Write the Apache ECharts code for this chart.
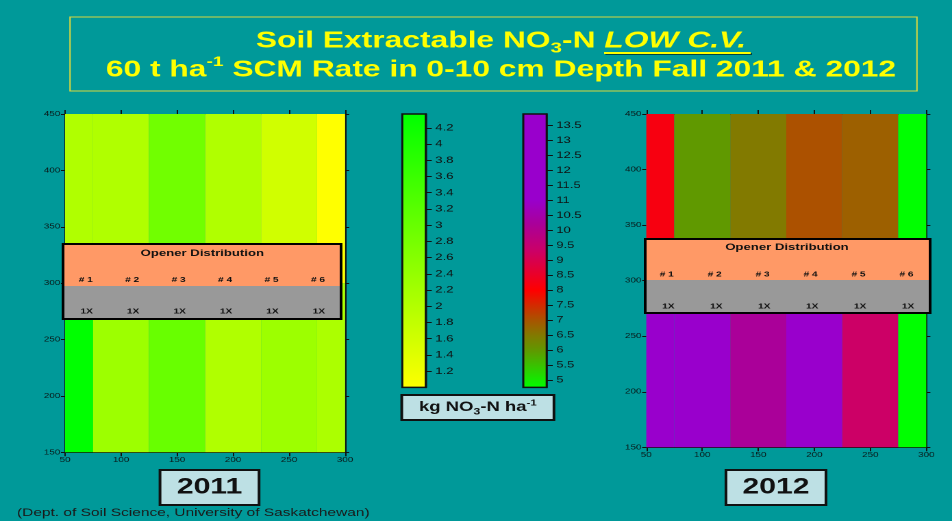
<!DOCTYPE html>
<html>
<head>
<meta charset="utf-8">
<script src="https://cdn.jsdelivr.net/npm/echarts@6/dist/echarts.min.js"></script>
<style>
  html, body { margin: 0; padding: 0; background: #009999; overflow: hidden; }
  /* the source slide is stretched horizontally, so draw narrow and stretch */
  #main { width: 695px; height: 521px; transform: scaleX(1.3698); transform-origin: 0 0; }
</style>
</head>
<body>
<div id="main"></div>
<script>
// grid points (m) and the two rows of each field map
const xPoints = [50, 100, 150, 200, 250, 300];
const yRows = [150, 450];
// kg NO3-N ha-1, one value per column, bottom row (y=150) and top row (y=450)
const no3_2011_bottom = [4.37, 2.3, 3.0, 2.05, 2.3, 2.1];
const no3_2011_top = [2.05, 2.05, 2.88, 2.05, 1.62, 1.0];
const no3_2012_bottom = [12.0, 12.0, 10.2, 12.0, 9.3, 4.75];
const no3_2012_top = [8.2, 6.0, 6.5, 7.05, 6.85, 4.75];

const xTicks = [50, 100, 150, 200, 250, 300];
const yTicks = [150, 200, 250, 300, 350, 400, 450];
const ticks2011 = [1.2, 1.4, 1.6, 1.8, 2, 2.2, 2.4, 2.6, 2.8, 3, 3.2, 3.4, 3.6, 3.8, 4, 4.2];
const ticks2012 = [5, 5.5, 6, 6.5, 7, 7.5, 8, 8.5, 9, 9.5, 10, 10.5, 11, 11.5, 12, 12.5, 13, 13.5];
const openers = ['# 1', '# 2', '# 3', '# 4', '# 5', '# 6'];
const rates = ['1X', '1X', '1X', '1X', '1X', '1X'];

// colour scales [value, colour]
const stops2011 = [[1.0, '#ffff00'], [4.37, '#00ff00']];
const stops2012 = [[4.75, '#00ff00'], [6.0, '#609900'], [6.5, '#827a00'], [7.0, '#a85500'],
  [8.0, '#ff0000'], [9.3, '#cc0066'], [10.2, '#aa0099'], [11.0, '#9900cc'], [13.88, '#9900cc']];

const FONT = "'Liberation Sans', Arial, sans-serif";

function colorAt(stops, v) {
  if (v <= stops[0][0]) return stops[0][1];
  for (let i = 1; i < stops.length; i++) {
    if (v <= stops[i][0]) {
      const t = (v - stops[i - 1][0]) / (stops[i][0] - stops[i - 1][0]);
      return echarts.color.lerp(t, [stops[i - 1][1], stops[i][1]]);
    }
  }
  return stops[stops.length - 1][1];
}

// cells: [x0, x1, y0, y1, value], edges half way between grid points
function cells(bottom, top) {
  const out = [];
  const rows = [bottom, top];
  for (let r = 0; r < yRows.length; r++) {
    const y0 = r === 0 ? yRows[0] : (yRows[r - 1] + yRows[r]) / 2;
    const y1 = r === yRows.length - 1 ? yRows[r] : (yRows[r] + yRows[r + 1]) / 2;
    for (let i = 0; i < xPoints.length; i++) {
      const x0 = i === 0 ? xPoints[0] : (xPoints[i - 1] + xPoints[i]) / 2;
      const x1 = i === xPoints.length - 1 ? xPoints[i] : (xPoints[i] + xPoints[i + 1]) / 2;
      out.push([x0, x1, y0, y1, rows[r][i]]);
    }
  }
  return out;
}

function heatSeries(idx, data, stops) {
  return {
    type: 'custom', xAxisIndex: idx, yAxisIndex: idx,
    encode: { x: [0, 1], y: [2, 3] },
    data: data,
    z: 1,
    renderItem: function (params, api) {
      const p0 = api.coord([api.value(0), api.value(3)]);
      const p1 = api.coord([api.value(1), api.value(2)]);
      return {
        type: 'rect',
        shape: { x: p0[0], y: p0[1], width: p1[0] - p0[0], height: p1[1] - p0[1] },
        style: { fill: colorAt(stops, api.value(4)) }
      };
    }
  };
}

function barSeries(idx, stops) {
  const lo = stops[0][0], hi = stops[stops.length - 1][0];
  return {
    type: 'custom', xAxisIndex: idx, yAxisIndex: idx,
    data: [[0, lo, 1, hi]],
    renderItem: function (params, api) {
      const p0 = api.coord([0, hi]);
      const p1 = api.coord([1, lo]);
      return {
        type: 'rect',
        shape: { x: p0[0], y: p0[1], width: p1[0] - p0[0], height: p1[1] - p0[1] },
        style: {
          fill: new echarts.graphic.LinearGradient(0, 1, 0, 0,
            stops.map(s => ({ offset: (s[0] - lo) / (hi - lo), color: s[1] }))),
          stroke: '#111', lineWidth: 1.5
        }
      };
    }
  };
}

const axisLine = { show: true, onZero: false, lineStyle: { color: '#111', width: 1 } };
function mapX(grid, pos) {
  return {
    type: 'value', gridIndex: grid, position: pos, min: 50, max: 300, interval: 50,
    axisLine: axisLine, splitLine: { show: false },
    axisTick: { show: true, length: 4, lineStyle: { color: '#111' } },
    axisLabel: { show: pos === 'bottom', fontSize: 7.2, margin: 4, color: '#0a1a1a', fontFamily: FONT }
  };
}
function mapY(grid, pos) {
  return {
    type: 'value', gridIndex: grid, position: pos, min: 150, max: 450, interval: 50,
    axisLine: axisLine, splitLine: { show: false },
    axisTick: { show: true, length: 3, lineStyle: { color: '#111' } },
    axisLabel: { show: pos === 'left', fontSize: 7.2, margin: 3.5, color: '#0a1a1a', fontFamily: FONT }
  };
}
function barX(grid) {
  return { type: 'value', gridIndex: grid, min: 0, max: 1, show: false };
}
function barY(grid, stops, ticks) {
  return {
    type: 'value', gridIndex: grid, position: 'right',
    min: stops[0][0], max: stops[stops.length - 1][0],
    axisLine: { show: true, onZero: false, lineStyle: { color: '#111', width: 1.5 } }, splitLine: { show: false },
    axisTick: { show: true, length: 4.4, customValues: ticks, lineStyle: { color: '#111', width: 1 } },
    axisLabel: { customValues: ticks, fontSize: 9.5, margin: 7, color: '#111', fontFamily: FONT }
  };
}

function openerBox(x0, x1, yTop, yMid, yBot, titleX, titleY, firstX, step, numY, rateX, rateY) {
  const g = [
    { type: 'rect', shape: { x: x0, y: yTop, width: x1 - x0, height: yMid - yTop }, style: { fill: '#ff9966' }, z: 10 },
    { type: 'rect', shape: { x: x0, y: yMid, width: x1 - x0, height: yBot - yMid }, style: { fill: '#999999' }, z: 10 },
    { type: 'rect', shape: { x: x0, y: yTop, width: x1 - x0, height: yBot - yTop }, style: { fill: 'none', stroke: '#000', lineWidth: 2 }, z: 12 },
    { type: 'text', x: titleX, y: titleY, z: 13, style: { text: 'Opener Distribution', font: 'bold 9.6px ' + FONT, fill: '#111', align: 'center', verticalAlign: 'middle' } }
  ];
  openers.forEach((t, i) => g.push({ type: 'text', x: firstX + i * step, y: numY, z: 13,
    style: { text: t, font: 'bold 7.4px ' + FONT, fill: '#111', align: 'center', verticalAlign: 'middle' } }));
  rates.forEach((t, i) => g.push({ type: 'text', x: rateX + i * step, y: rateY, z: 13,
    style: { text: t, font: 'bold 7.4px ' + FONT, fill: '#111', align: 'center', verticalAlign: 'middle' } }));
  return g;
}

function labelBox(x0, x1, y0, y1, rich, text) {
  return [
    { type: 'rect', shape: { x: x0, y: y0, width: x1 - x0, height: y1 - y0 }, style: { fill: '#bde0e4', stroke: '#111', lineWidth: 2 }, z: 10 },
    { type: 'text', x: (x0 + x1) / 2, y: (y0 + y1) / 2, z: 11, style: { text: text, rich: rich, align: 'center', verticalAlign: 'middle' } }
  ];
}

const YEL = '#ffff00';
const titleRich = {
  a: { fontSize: 23.2, fontWeight: 'bold', fontFamily: FONT, fill: YEL, lineHeight: 30 },
  sub: { fontSize: 15, fontWeight: 'bold', fontFamily: FONT, fill: YEL, verticalAlign: 'bottom', lineHeight: 18 },
  sup: { fontSize: 14, fontWeight: 'bold', fontFamily: FONT, fill: YEL, verticalAlign: 'top', lineHeight: 18 },
  em: { fontSize: 23.2, fontWeight: 'bold', fontStyle: 'italic', fontFamily: FONT, fill: YEL, lineHeight: 30,
        textShadowColor: 'rgba(0,0,0,0.55)', textShadowOffsetX: 1, textShadowOffsetY: 1 }
};
const unitRich = {
  b: { fontSize: 13.5, fontWeight: 'bold', fontFamily: FONT, fill: '#111', lineHeight: 18 },
  sub: { fontSize: 9, fontWeight: 'bold', fontFamily: FONT, fill: '#111', verticalAlign: 'bottom', lineHeight: 12 },
  sup: { fontSize: 8.5, fontWeight: 'bold', fontFamily: FONT, fill: '#111', verticalAlign: 'top', lineHeight: 12 }
};
const yearRich = { y: { fontSize: 22, fontWeight: 'bold', fontFamily: FONT, fill: '#111' } };

const graphics = [].concat(
  [
    { type: 'rect', shape: { x: 51.1, y: 17, width: 618.3, height: 74 }, style: { fill: 'none', stroke: '#d8d840', lineWidth: 1 } },
    { type: 'text', x: 365.7, y: 41, style: { text: '{a|Soil Extractable NO}{sub|3}{a|-N }{em|LOW C.V.}', rich: titleRich, align: 'center', verticalAlign: 'middle' } },
    { type: 'line', shape: { x1: 441, y1: 53, x2: 548, y2: 53 }, style: { stroke: YEL, lineWidth: 2, shadowColor: 'rgba(0,0,0,0.55)', shadowOffsetX: 1, shadowOffsetY: 1 } },
    { type: 'text', x: 365.7, y: 70, style: { text: '{a|60 t ha}{sup|-1}{a| SCM Rate in 0-10 cm Depth Fall 2011 & 2012}', rich: titleRich, align: 'center', verticalAlign: 'middle' } },
    { type: 'text', x: 12.4, y: 513, style: { text: '(Dept. of Soil Science, University of Saskatchewan)', font: '11.3px ' + FONT, fill: '#1a1a1a', verticalAlign: 'middle' } }
  ],
  openerBox(46, 249, 244, 286, 319, 147.7, 253.5, 62.6, 33.9, 280, 63.3, 311.7),
  openerBox(471, 679, 239, 280, 313, 574.5, 247.5, 486.7, 35, 274.7, 487.9, 306.7),
  labelBox(293.3, 404.4, 395, 420, unitRich, '{b|kg NO}{sub|3}{b|-N ha}{sup|-1}'),
  labelBox(116.8, 189.1, 470, 505, yearRich, '{y|2011}'),
  labelBox(530, 603, 470, 505, yearRich, '{y|2012}')
);

const option = {
  backgroundColor: '#009999',
  animation: false,
  textStyle: { fontFamily: FONT },
  grid: [
    { left: 47.5, top: 114, width: 204.4, height: 338.3 },
    { left: 293.7, top: 114, width: 17.1, height: 273.4 },
    { left: 382, top: 114, width: 17.1, height: 273.4 },
    { left: 471.8, top: 114, width: 204.4, height: 333.3 }
  ],
  xAxis: [mapX(0, 'bottom'), barX(1), barX(2), mapX(3, 'bottom'), mapX(0, 'top'), mapX(3, 'top')],
  yAxis: [mapY(0, 'left'), barY(1, stops2011, ticks2011), barY(2, stops2012, ticks2012), mapY(3, 'left'), mapY(0, 'right'), mapY(3, 'right')],
  series: [
    heatSeries(0, cells(no3_2011_bottom, no3_2011_top), stops2011),
    barSeries(1, stops2011),
    barSeries(2, stops2012),
    heatSeries(3, cells(no3_2012_bottom, no3_2012_top), stops2012)
  ],
  graphic: graphics
};

const chart = echarts.init(document.getElementById('main'), null, { devicePixelRatio: 2 });
chart.setOption(option);
</script>
</body>
</html>
